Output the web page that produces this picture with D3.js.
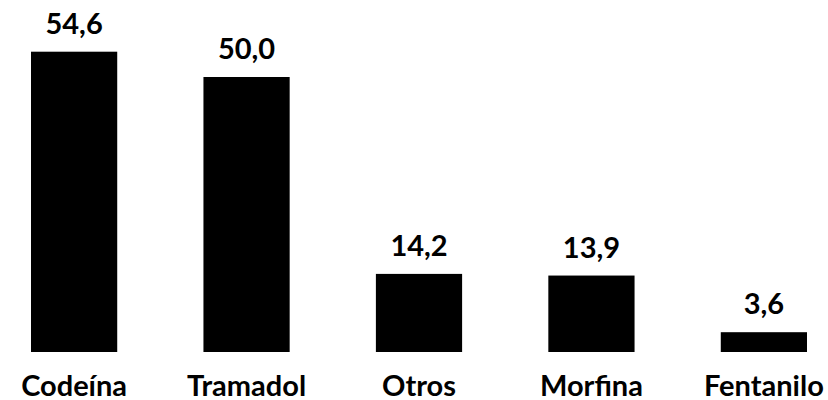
<!DOCTYPE html>
<html>
<head>
<meta charset="utf-8">
<script src="https://cdn.jsdelivr.net/npm/d3@7"></script>
<style>
  body { margin: 0; background: #fff; }
  svg { display: block; }
</style>
</head>
<body>
<div id="chart"></div>
<script>
const categories = ['Codeína', 'Tramadol', 'Otros', 'Morfina', 'Fentanilo']
const values = [54.6, 50.0, 14.2, 13.9, 3.6]
const valueLabels = ['54,6', '50,0', '14,2', '13,9', '3,6']

const width = 828
const height = 400

const svg = d3.select('#chart')
  .append('svg')
  .attr('width', width)
  .attr('height', height)

const x = d3.scaleBand()
  .domain(categories)
  .range([31, 807])
  .paddingInner(0.5)
  .paddingOuter(0)

const y = d3.scaleLinear()
  .domain([0, 54.6])
  .range([352, 51.7])

const data = categories.map((c, i) => ({ cat: c, value: values[i], label: valueLabels[i] }))

/* bars */
svg.append('g')
  .selectAll('rect')
  .data(data)
  .join('rect')
  .attr('x', d => x(d.cat))
  .attr('y', d => y(d.value))
  .attr('width', x.bandwidth())
  .attr('height', d => y(0) - y(d.value))
  .attr('fill', '#000')

/* value labels */
svg.append('g')
  .selectAll('text')
  .data(data)
  .join('text')
  .attr('x', d => x(d.cat) + x.bandwidth() / 2)
  .attr('y', d => y(d.value) - 18)
  .attr('text-anchor', 'middle')
  .attr('font-family', 'Lato, sans-serif')
  .attr('font-weight', 700)
  .attr('font-size', '29px')
  .attr('fill', '#000')
  .text(d => d.label)

/* category axis labels */
const axis = d3.axisBottom(x).tickSize(0).tickPadding(0)
const gx = svg.append('g')
  .attr('transform', `translate(0,${y(0)})`)
  .call(axis)
gx.select('.domain').remove()
gx.selectAll('text')
  .attr('dy', null)
  .attr('y', 43.5)
  .attr('font-family', 'Lato, sans-serif')
  .attr('font-weight', 700)
  .attr('font-size', '29px')
  .attr('fill', '#000')
</script>
</body>
</html>
